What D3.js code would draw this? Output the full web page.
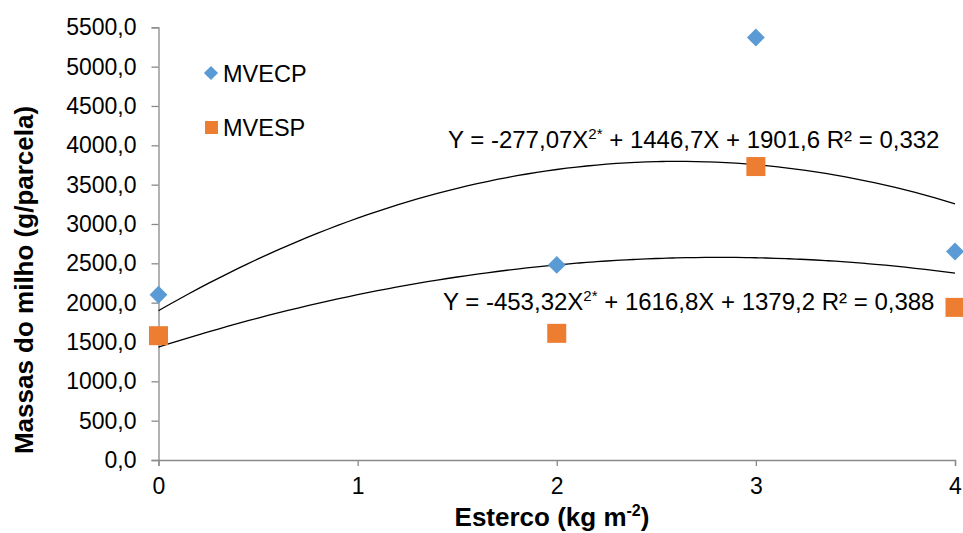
<!DOCTYPE html>
<html>
<head>
<meta charset="utf-8">
<script src="https://cdn.jsdelivr.net/npm/d3@7"></script>
<style>
  html, body { margin: 0; padding: 0; background: #fff; }
  svg { display: block; font-family: "Liberation Sans", Arial, sans-serif; }
</style>
</head>
<body>
<svg id="chart" width="963" height="533"></svg>
<script>
// Manure dose (kg m-2) and corn mass per plot (g/parcela)
const doses = [0, 2, 3, 4];
const mvecp = [2100, 2480, 5370, 2650];
const mvesp = [1580, 1610, 3730, 1940];
const xTicks = [0, 1, 2, 3, 4];
const yTicks = [0, 500, 1000, 1500, 2000, 2500, 3000, 3500, 4000, 4500, 5000, 5500];
const seriesNames = ["MVECP", "MVESP"];
const eqUpper = ["Y = -277,07X", "2*", " + 1446,7X + 1901,6 R² = 0,332"];
const eqLower = ["Y = -453,32X", "2*", " + 1616,8X + 1379,2 R² = 0,388"];

const blue = "#5B9BD5", orange = "#ED7D31", axisGray = "#898989";

const svg = d3.select("#chart");
const x = d3.scaleLinear().domain([0, 4]).range([158.5, 955]);
const y = d3.scaleLinear().domain([0, 5500]).range([460, 27.3]);

const loc = d3.formatLocale({decimal: ",", thousands: "", grouping: [3], currency: ["", ""]});
const fmt = loc.format(".1f");

// y axis
const yAxis = svg.append("g").attr("transform", `translate(${x(0)},0)`)
  .call(d3.axisLeft(y).tickValues(yTicks).tickFormat(fmt).tickSize(7).tickPadding(15));
yAxis.select(".domain").attr("stroke", axisGray).attr("stroke-width", 1.3);
yAxis.selectAll(".tick line").attr("stroke", axisGray).attr("stroke-width", 1.3);
yAxis.selectAll(".tick text").attr("font-size", 23).attr("fill", "#000")
  .attr("font-family", "Liberation Sans, Arial, sans-serif");

// x axis
const xAxis = svg.append("g").attr("transform", `translate(0,${y(0)})`)
  .call(d3.axisBottom(x).tickValues(xTicks).tickFormat(d3.format("d")).tickSize(6).tickPadding(12));
xAxis.select(".domain").attr("stroke", axisGray).attr("stroke-width", 1.3);
xAxis.selectAll(".tick line").attr("stroke", axisGray).attr("stroke-width", 1.3);
xAxis.selectAll(".tick text").attr("font-size", 23).attr("fill", "#000")
  .attr("font-family", "Liberation Sans, Arial, sans-serif");

// axis titles
svg.append("text")
  .attr("transform", `translate(33,280) rotate(-90)`)
  .attr("text-anchor", "middle")
  .attr("font-size", 26).attr("font-weight", "bold")
  .text("Massas do milho (g/parcela)");

const xt = svg.append("text")
  .attr("x", 552).attr("y", 526)
  .attr("text-anchor", "middle")
  .attr("font-size", 26).attr("font-weight", "bold");
xt.append("tspan").text("Esterco (kg m");
xt.append("tspan").attr("font-size", 16).attr("dy", -10).text("-2");
xt.append("tspan").attr("dy", 10).text(")");

// quadratic least-squares trend line
function quadFit(xs, ys) {
  const s = k => d3.sum(xs, v => Math.pow(v, k));
  const t = k => d3.sum(xs, (v, i) => Math.pow(v, k) * ys[i]);
  const A = [[s(0), s(1), s(2), t(0)], [s(1), s(2), s(3), t(1)], [s(2), s(3), s(4), t(2)]];
  for (let i = 0; i < 3; i++) {
    for (let j = i + 1; j < 3; j++) {
      const f = A[j][i] / A[i][i];
      for (let k = i; k < 4; k++) A[j][k] -= f * A[i][k];
    }
  }
  const c = [0, 0, 0];
  for (let i = 2; i >= 0; i--) {
    let v = A[i][3];
    for (let k = i + 1; k < 3; k++) v -= A[i][k] * c[k];
    c[i] = v / A[i][i];
  }
  return v => c[0] + c[1] * v + c[2] * v * v;
}

const samples = d3.range(0, 4.0001, 0.05);
const line = d3.line().x(d => x(d[0])).y(d => y(d[1])).curve(d3.curveMonotoneX);
[mvecp, mvesp].forEach(vals => {
  const f = quadFit(doses, vals);
  svg.append("path")
    .attr("d", line(samples.map(v => [v, f(v)])))
    .attr("fill", "none").attr("stroke", "#000").attr("stroke-width", 1.3);
});

// points
const diamond = d3.symbol().type(d3.symbolSquare).size(160);
svg.append("g").selectAll("path").data(doses)
  .join("path")
  .attr("d", diamond)
  .attr("transform", (d, i) => `translate(${x(d)},${y(mvecp[i])}) rotate(45)`)
  .attr("fill", blue);

const sq = 19;
svg.append("g").selectAll("rect").data(doses)
  .join("rect")
  .attr("x", d => x(d) - sq / 2)
  .attr("y", (d, i) => y(mvesp[i]) - sq / 2)
  .attr("width", sq).attr("height", sq)
  .attr("fill", orange);

// equation labels
function eq(parts, px, py) {
  const t = svg.append("text").attr("x", px).attr("y", py).attr("font-size", 24);
  t.append("tspan").text(parts[0]);
  t.append("tspan").attr("font-size", 15).attr("dy", -9).text(parts[1]);
  t.append("tspan").attr("dy", 9).text(parts[2]);
}
eq(eqUpper, 448, 148);
eq(eqLower, 443, 310);

// legend
const lg = svg.append("g");
lg.append("path")
  .attr("d", d3.symbol().type(d3.symbolSquare).size(100))
  .attr("transform", "translate(211,73) rotate(45)")
  .attr("fill", blue);
lg.append("text").attr("x", 223).attr("y", 82).attr("font-size", 23.5).text(seriesNames[0]);
lg.append("rect").attr("x", 205).attr("y", 121).attr("width", 13).attr("height", 13).attr("fill", orange);
lg.append("text").attr("x", 223).attr("y", 136).attr("font-size", 23.5).text(seriesNames[1]);
</script>
</body>
</html>
